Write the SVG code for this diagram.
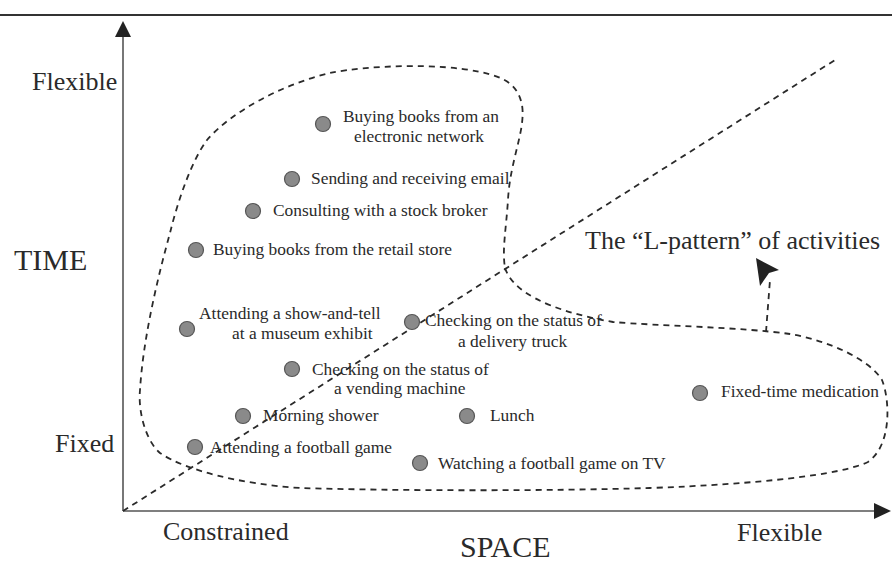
<svg xmlns="http://www.w3.org/2000/svg" width="892" height="562" viewBox="0 0 892 562">
<style>
  text { font-family: "Liberation Serif", "Times New Roman", serif; fill: #2a2a2a; }
  .lbl { font-size: 17.4px; }
  .ax { font-size: 26px; }
  .big { font-size: 30px; }
  .dot { fill: #8a8a8a; stroke: #555; stroke-width: 1.2; }
  .dash { fill: none; stroke: #2a2a2a; stroke-width: 1.8; stroke-dasharray: 6 5; }
  .axis { stroke: #555; stroke-width: 1.6; fill: none; }
</style>
<rect width="892" height="562" fill="#fff"/>
<line x1="0" y1="15" x2="892" y2="15" stroke="#333" stroke-width="2"/>

<g id="connectors">
  <line class="axis" x1="123" y1="511" x2="123" y2="34"/>
  <polygon points="123,21 115,37 131,37" fill="#222"/>
  <line class="axis" x1="123" y1="511" x2="876" y2="511"/>
  <polygon points="891,511 874,503 874,519" fill="#222"/>
  <line class="dash" x1="123" y1="511" x2="835" y2="60"/>
  <path class="dash" d="M505,268 C512,290 545,310 613,322 C660,326 740,327 790,334 C830,341 870,360 882,380 C890,400 892,445 868,462 C840,475 760,484 650,488 C550,491 400,491 300,488 C240,484 185,470 160,453 C145,440 138,410 140,390 C143,340 157,280 170,233 C178,200 192,160 207,140 C230,113 280,85 330,73 C370,65 440,63 480,72 C505,77 518,85 522,105 C526,130 510,160 508,200 C506,230 502,250 505,268 Z"/>
  <path class="dash" d="M766,332 L770,280" stroke-width="2.2"/>
  <polygon points="756,258 779,270 769,273 760,286" fill="#222"/>
</g>

<g id="axis-labels">
  <text class="ax" x="32" y="90">Flexible</text>
  <text class="big" x="14" y="270">TIME</text>
  <text class="ax" x="55" y="452">Fixed</text>
  <text class="ax" x="163" y="540">Constrained</text>
  <text class="ax" x="737" y="541">Flexible</text>
  <text class="big" x="460" y="557">SPACE</text>
  <text class="ax" x="585" y="249">The “L-pattern” of activities</text>
</g>

<g id="n1"><circle class="dot" cx="323" cy="124" r="7.5"/><text class="lbl" x="343" y="122">Buying books from an</text><text class="lbl" x="354" y="142">electronic network</text></g>
<g id="n2"><circle class="dot" cx="292" cy="179" r="7.5"/><text class="lbl" x="311" y="184">Sending and receiving email</text></g>
<g id="n3"><circle class="dot" cx="253" cy="211" r="7.5"/><text class="lbl" x="273" y="216">Consulting with a stock broker</text></g>
<g id="n4"><circle class="dot" cx="196" cy="250" r="7.5"/><text class="lbl" x="213" y="255">Buying books from the retail store</text></g>
<g id="n5"><circle class="dot" cx="187" cy="329" r="7.5"/><text class="lbl" x="199" y="319">Attending a show-and-tell</text><text class="lbl" x="232" y="339">at a museum exhibit</text></g>
<g id="n6"><circle class="dot" cx="412" cy="322" r="7.5"/><text class="lbl" x="425" y="326">Checking on the status of</text><text class="lbl" x="458" y="347">a delivery truck</text></g>
<g id="n7"><circle class="dot" cx="292" cy="369" r="7.5"/><text class="lbl" x="312" y="375">Checking on the status of</text><text class="lbl" x="334" y="394">a vending machine</text></g>
<g id="n8"><circle class="dot" cx="243" cy="416" r="7.5"/><text class="lbl" x="263" y="421">Morning shower</text></g>
<g id="n9"><circle class="dot" cx="467" cy="416" r="7.5"/><text class="lbl" x="490" y="421">Lunch</text></g>
<g id="n10"><circle class="dot" cx="195" cy="447" r="7.5"/><text class="lbl" x="210" y="453">Attending a football game</text></g>
<g id="n11"><circle class="dot" cx="420" cy="463" r="7.5"/><text class="lbl" x="438" y="469">Watching a football game on TV</text></g>
<g id="n12"><circle class="dot" cx="700" cy="393" r="7.5"/><text class="lbl" x="721" y="397">Fixed-time medication</text></g>
</svg>
